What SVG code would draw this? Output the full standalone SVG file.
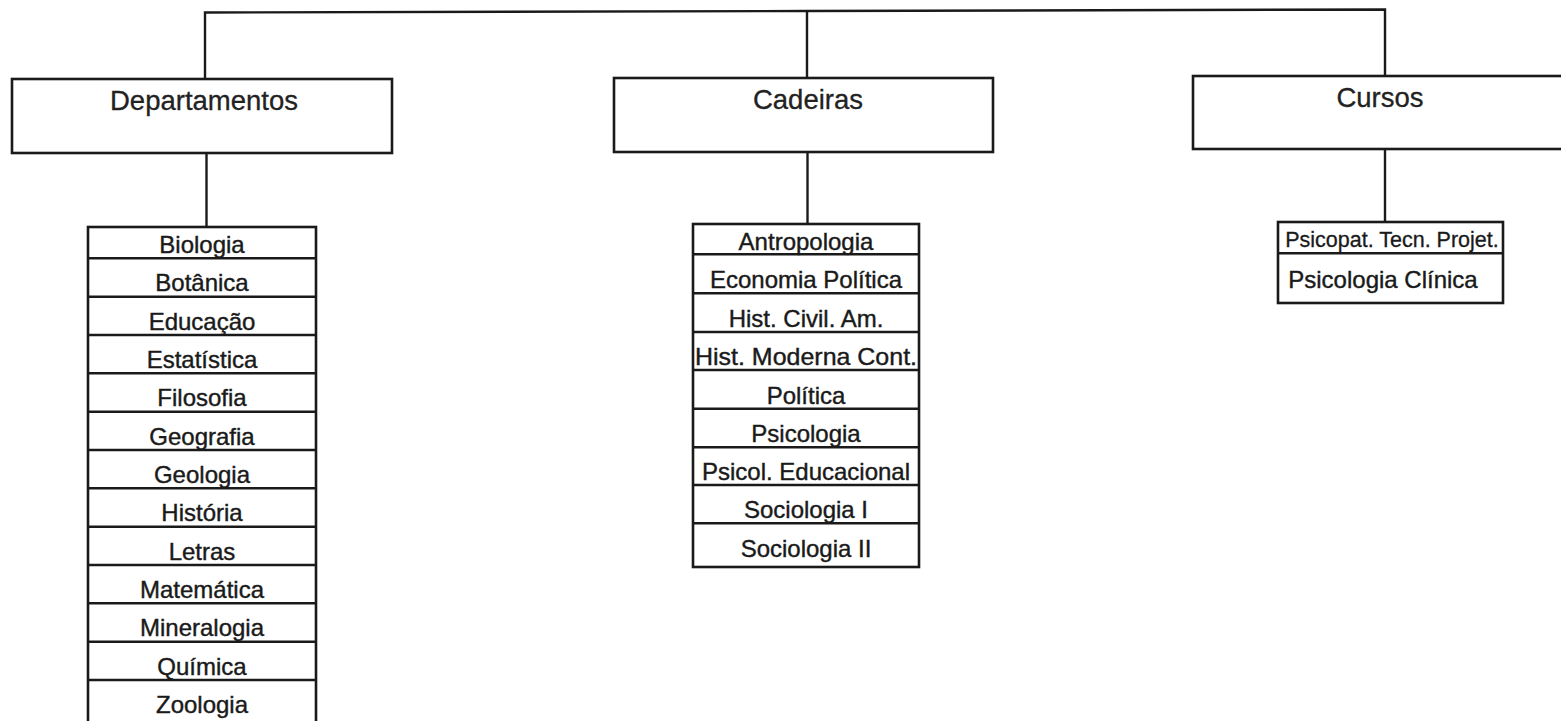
<svg xmlns="http://www.w3.org/2000/svg" width="1561" height="721" viewBox="0 0 1561 721">
<style>
.box{fill:#fff;stroke:#1a1a1a;stroke-width:2.6}
.ln{fill:none;stroke:#1a1a1a;stroke-width:2.4}
.hd{font-family:"Liberation Sans",Arial,sans-serif;font-size:27.5px;fill:#222;stroke:#222;stroke-width:0.3;text-anchor:middle}
.it{font-family:"Liberation Sans",Arial,sans-serif;font-size:24px;fill:#1a1a1a;stroke:#1a1a1a;stroke-width:0.4;text-anchor:middle}
.sm{font-family:"Liberation Sans",Arial,sans-serif;font-size:21.5px;fill:#1a1a1a;stroke:#1a1a1a;stroke-width:0.3;text-anchor:middle}
</style>
<rect width="1561" height="721" fill="#fff"/>
<g id="connectors">
<path class="ln" d="M205 79 L205 12.5 L807 11 L1385 9.5 L1385 76"/>
<path class="ln" d="M807 11 L807 78"/>
<path class="ln" d="M206.5 153 L206.5 227"/>
<path class="ln" d="M807.5 152 L807.5 224"/>
<path class="ln" d="M1385 149 L1385 222"/>
</g>
<g id="departamentos">
<rect class="box" x="12" y="79" width="380" height="74"/>
<text class="hd" x="204" y="109.5">Departamentos</text>
</g>
<g id="cadeiras">
<rect class="box" x="614" y="78" width="379" height="74"/>
<text class="hd" x="808" y="108.5">Cadeiras</text>
</g>
<g id="cursos">
<rect class="box" x="1193" y="76" width="380" height="73"/>
<text class="hd" x="1380" y="106.5">Cursos</text>
</g>
<g id="lista-departamentos">
<rect class="box" x="88" y="227" width="228" height="510"/>
<path class="ln" d="M88 258.3H316M88 296.7H316M88 335H316M88 373.3H316M88 411.7H316M88 450H316M88 488.3H316M88 526.7H316M88 565H316M88 603.3H316M88 641.7H316M88 680H316"/>
<text class="it" x="202" y="253">Biologia</text>
<text class="it" x="202" y="291">Botânica</text>
<text class="it" x="202" y="329.5">Educação</text>
<text class="it" x="202" y="368">Estatística</text>
<text class="it" x="202" y="406">Filosofia</text>
<text class="it" x="202" y="444.5">Geografia</text>
<text class="it" x="202" y="483">Geologia</text>
<text class="it" x="202" y="521">História</text>
<text class="it" x="202" y="559.5">Letras</text>
<text class="it" x="202" y="598">Matemática</text>
<text class="it" x="202" y="636">Mineralogia</text>
<text class="it" x="202" y="674.5">Química</text>
<text class="it" x="202" y="713">Zoologia</text>
</g>
<g id="lista-cadeiras">
<rect class="box" x="693" y="224" width="226" height="343"/>
<path class="ln" d="M693 254.3H919M693 293.3H919M693 332H919M693 370H919M693 408.7H919M693 447.3H919M693 485H919M693 523.3H919"/>
<text class="it" x="806" y="250">Antropologia</text>
<text class="it" x="806" y="288">Economia Política</text>
<text class="it" x="806" y="327">Hist. Civil. Am.</text>
<text class="it" x="806" y="365" textLength="222" lengthAdjust="spacingAndGlyphs">Hist. Moderna Cont.</text>
<text class="it" x="806" y="403.5">Política</text>
<text class="it" x="806" y="442">Psicologia</text>
<text class="it" x="806" y="480">Psicol. Educacional</text>
<text class="it" x="806" y="518">Sociologia I</text>
<text class="it" x="806" y="557">Sociologia II</text>
</g>
<g id="lista-cursos">
<rect class="box" x="1278" y="222" width="225" height="81"/>
<path class="ln" d="M1278 253.3H1503"/>
<text class="sm" x="1392" y="246.5">Psicopat. Tecn. Projet.</text>
<text class="it" x="1383" y="287.5">Psicologia Clínica</text>
</g>
</svg>
